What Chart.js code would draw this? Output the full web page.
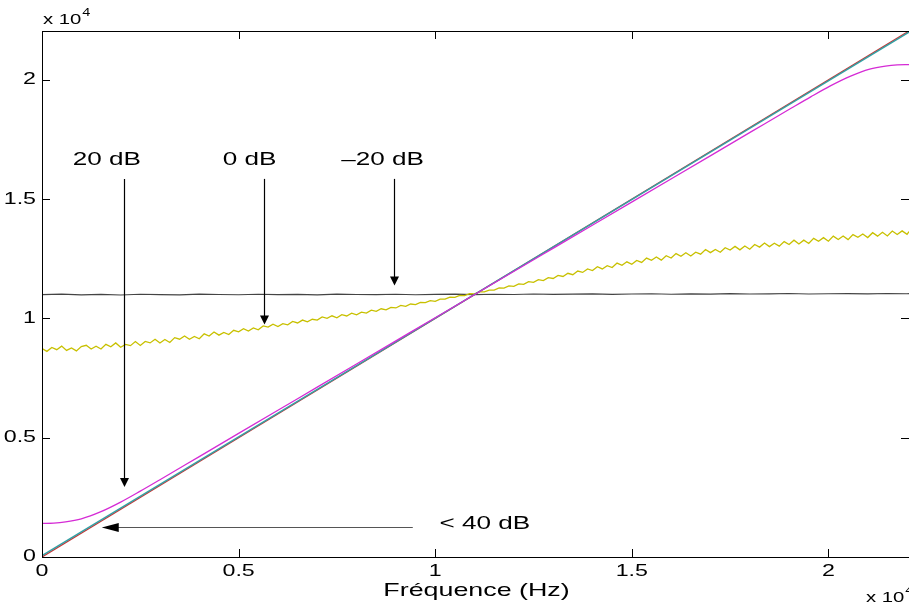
<!DOCTYPE html>
<html>
<head>
<meta charset="utf-8">
<script src="https://cdn.jsdelivr.net/npm/chart.js@4/dist/chart.umd.min.js"></script>
<style>
  html, body { margin: 0; padding: 0; background: #fff; }
  canvas { display: block; }
</style>
</head>
<body>
<canvas id="chart" width="909" height="605"></canvas>
<script>
// Data (both axes in Hz, shown x 10^4)
const F_MAX = 22050;
const xTicks = [0, 5000, 10000, 15000, 20000];
const yTicks = [0, 5000, 10000, 15000, 20000];
const tickLabels = ["0", "0.5", "1", "1.5", "2"];

// < 40 dB : identity
const redX = [0, 22050];
const redY = [0, 22050];
const tealX = [0, 22050];
const tealY = [60, 22005];

// 20 dB
const magentaX = [0, 300, 600, 1000, 1500, 2000, 2500, 3000, 4000, 5000, 6000, 7000, 8000, 9000, 10000,
  11025, 12050, 13050, 14050, 15050, 16050, 17050, 18050, 19050, 19550, 20050, 20550, 21050, 21450, 21750, 22050];
const magentaY = [1410, 1420, 1470, 1600, 1900, 2300, 2760, 3240, 4210, 5180, 6150, 7120, 8090, 9060, 10030,
  11025, 12020, 12990, 13960, 14930, 15900, 16870, 17840, 18810, 19290, 19750, 20150, 20450, 20580, 20630, 20640];

// 0 dB (sampled every 125 Hz)
const yellowStep = 125;
const yellowEdge = 7450;
const yellowY = [8740, 8620, 8785, 8690, 8840, 8660, 8765, 8640, 8820, 8875,
  8720, 8835, 8720, 8915, 8810, 8975, 8790, 8910, 8860, 9032,
  8865, 9035, 8975, 9127, 8970, 9115, 8990, 9195, 9130, 9265,
  9130, 9245, 9150, 9357, 9265, 9432, 9300, 9417, 9325, 9502,
  9440, 9570, 9470, 9602, 9525, 9685, 9635, 9757, 9660, 9782,
  9735, 9877, 9810, 9932, 9855, 9967, 9930, 10067, 10005, 10112,
  10030, 10157, 10105, 10222, 10150, 10262, 10225, 10347, 10300, 10405,
  10360, 10465, 10440, 10545, 10510, 10605, 10580, 10675, 10660, 10745,
  10720, 10810, 10810, 10897, 10885, 10962, 10960, 11035, 11030, 11110,
  11110, 11190, 11190, 11280, 11270, 11362, 11345, 11447, 11430, 11542,
  11515, 11627, 11590, 11712, 11675, 11807, 11760, 11892, 11835, 11987,
  11930, 12075, 12010, 12167, 12075, 12210, 12135, 12322, 12230, 12375,
  12270, 12430, 12350, 12532, 12435, 12575, 12445, 12627, 12530, 12717,
  12605, 12752, 12620, 12777, 12695, 12892, 12760, 12892, 12775, 12967,
  12870, 13022, 12875, 13037, 12900, 13100, 12990, 13160, 13010, 13150,
  13030, 13220, 13100, 13280, 13120, 13282, 13145, 13355, 13235, 13387,
  13240, 13450, 13310, 13457, 13305, 13515, 13405, 13542, 13390, 13595,
  13450, 13615, 13460, 13665, 13520, 13672, 13525, 13640];

// -20 dB (sampled every 500 Hz)
const blackStep = 500;
const blackY = [11000, 11020, 10990, 11010, 10985, 11015, 11000, 10990, 11020, 11005,
  10995, 11015, 11000, 11010, 10990, 11020, 11005, 11000, 11015, 10995,
  11010, 11020, 11000, 11015, 11005, 11025, 11010, 11020, 11030, 11010,
  11025, 11035, 11015, 11030, 11020, 11040, 11025, 11030, 11045, 11025,
  11035, 11040, 11030, 11045, 11035, 11040];

// Annotations: [label, x, yTop, yTip, labelX]
const vArrows = [
  ["20 dB", 2090, 15850, 2930, 1650],
  ["0 dB", 5640, 15850, 9750, 5280],
  ["\u201320 dB", 8940, 15850, 11380, 8660]
];
const labelY = 16650;
// horizontal arrow: [label, xFrom, xTip, y, labelX, labelY]
const hArrow = ["< 40 dB", 9430, 1520, 1260, 10110, 1390];

const FONT = '"Liberation Sans", Arial, Helvetica, sans-serif';
const STRETCH = 1.45;

function pts(xs, ys) { return xs.map((x, i) => ({ x, y: ys[i] })); }
function grid(ys, step) { return ys.map((y, i) => ({ x: Math.min(i * step, F_MAX), y })); }

function text(ctx, str, x, y, size, align) {
  ctx.save();
  ctx.font = size + "px " + FONT;
  ctx.textBaseline = "middle";
  const w = ctx.measureText(str).width * STRETCH;
  let left = x;
  if (align === "center") left = x - w / 2;
  if (align === "right") left = x - w;
  ctx.translate(left, y);
  ctx.scale(STRETCH, 1);
  ctx.textAlign = "left";
  ctx.fillText(str, 0, 0);
  ctx.restore();
  return w;
}

const decor = {
  id: "decor",
  afterDatasetsDraw(chart) {
    const { ctx, chartArea: a, scales: { x, y } } = chart;
    ctx.save();
    ctx.fillStyle = "#000";
    ctx.strokeStyle = "#000";
    ctx.lineWidth = 1;

    // frame
    ctx.strokeRect(Math.round(a.left) + 0.5, Math.round(a.top) + 0.5, a.right - a.left, Math.round(a.bottom - a.top));

    // inward ticks + labels
    ctx.beginPath();
    xTicks.forEach(v => {
      const px = Math.round(x.getPixelForValue(v)) + 0.5;
      ctx.moveTo(px, a.bottom); ctx.lineTo(px, a.bottom - 8);
      ctx.moveTo(px, a.top); ctx.lineTo(px, a.top + 8);
    });
    yTicks.forEach(v => {
      const py = Math.round(y.getPixelForValue(v)) + 0.5;
      ctx.moveTo(a.left, py); ctx.lineTo(a.left + 8, py);
      ctx.moveTo(a.right, py); ctx.lineTo(a.right - 8, py);
    });
    ctx.stroke();
    xTicks.forEach((v, i) => text(ctx, tickLabels[i], x.getPixelForValue(v), a.bottom + 15, 16, "center"));
    yTicks.forEach((v, i) => text(ctx, tickLabels[i], a.left - 6, y.getPixelForValue(v), 16, "right"));

    // x 10^4 multipliers
    let w = text(ctx, "x 10", a.left + 1, a.top - 11, 14, "left");
    text(ctx, "4", a.left + 1 + w + 1, a.top - 18, 10, "left");
    w = text(ctx, "x 10", 866, a.bottom + 41, 14, "left");
    text(ctx, "4", 866 + w + 1, a.bottom + 34, 10, "left");

    // axis title
    text(ctx, "Fr\u00e9quence (Hz)", (a.left + a.right) / 2 + 1, a.bottom + 34, 18.5, "center");

    // vertical arrows
    vArrows.forEach(([lab, vx, top, tip, lx]) => {
      const px = Math.round(x.getPixelForValue(vx)) + 0.5;
      const pt = y.getPixelForValue(top);
      const pe = y.getPixelForValue(tip);
      ctx.beginPath();
      ctx.moveTo(px, pt); ctx.lineTo(px, pe - 8);
      ctx.lineWidth = 1.2;
      ctx.stroke();
      ctx.beginPath();
      ctx.moveTo(px - 4.5, pe - 9); ctx.lineTo(px + 4.5, pe - 9); ctx.lineTo(px, pe);
      ctx.closePath();
      ctx.fill();
      text(ctx, lab, x.getPixelForValue(lx), y.getPixelForValue(labelY), 18, "center");
    });

    // horizontal arrow
    const [hl, hFrom, hTip, hy, hlx, hly] = hArrow;
    const py = Math.round(y.getPixelForValue(hy)) + 0.5;
    const pf = x.getPixelForValue(hFrom);
    const ptip = x.getPixelForValue(hTip);
    ctx.strokeStyle = "#555";
    ctx.lineWidth = 1;
    ctx.beginPath();
    ctx.moveTo(pf, py); ctx.lineTo(ptip + 16, py);
    ctx.stroke();
    ctx.beginPath();
    ctx.moveTo(ptip + 17, py - 4.5); ctx.lineTo(ptip + 17, py + 4.5); ctx.lineTo(ptip, py);
    ctx.closePath();
    ctx.fill();
    text(ctx, hl, x.getPixelForValue(hlx), y.getPixelForValue(hly), 18, "left");

    ctx.restore();
  }
};

const line = (data, color, width, extra) => Object.assign({
  data, borderColor: color, borderWidth: width, pointRadius: 0, showLine: true, fill: false, tension: 0
}, extra || {});

new Chart(document.getElementById("chart"), {
  type: "scatter",
  data: {
    datasets: [
      line(grid(blackY, blackStep), "#444444", 1.1, { order: 5 }),
      line([{ x: 0, y: yellowEdge }, ...grid(yellowY, yellowStep)], "#c8c000", 1.3, { order: 4 }),
      line(pts(magentaX, magentaY), "#d52bd5", 1.3, { order: 1, cubicInterpolationMode: "monotone" }),
      line(pts(tealX, tealY), "#33a0a4", 1.6, { order: 2 }),
      line(pts(redX, redY), "#c83232", 1.3, { order: 3 })
    ]
  },
  options: {
    responsive: false,
    animation: false,
    layout: { padding: { top: 31, right: 0, left: 0, bottom: 0 } },
    plugins: { legend: { display: false }, tooltip: { enabled: false } },
    scales: {
      x: {
        type: "linear", min: 0, max: F_MAX,
        ticks: { display: false, includeBounds: false, stepSize: 5000 },
        grid: { display: false }, border: { display: false },
        afterFit: s => { s.height = 48; }
      },
      y: {
        type: "linear", min: 0, max: F_MAX,
        ticks: { display: false, includeBounds: false, stepSize: 5000 },
        grid: { display: false }, border: { display: false },
        afterFit: s => { s.width = 42; }
      }
    }
  },
  plugins: [decor]
});
</script>
</body>
</html>
